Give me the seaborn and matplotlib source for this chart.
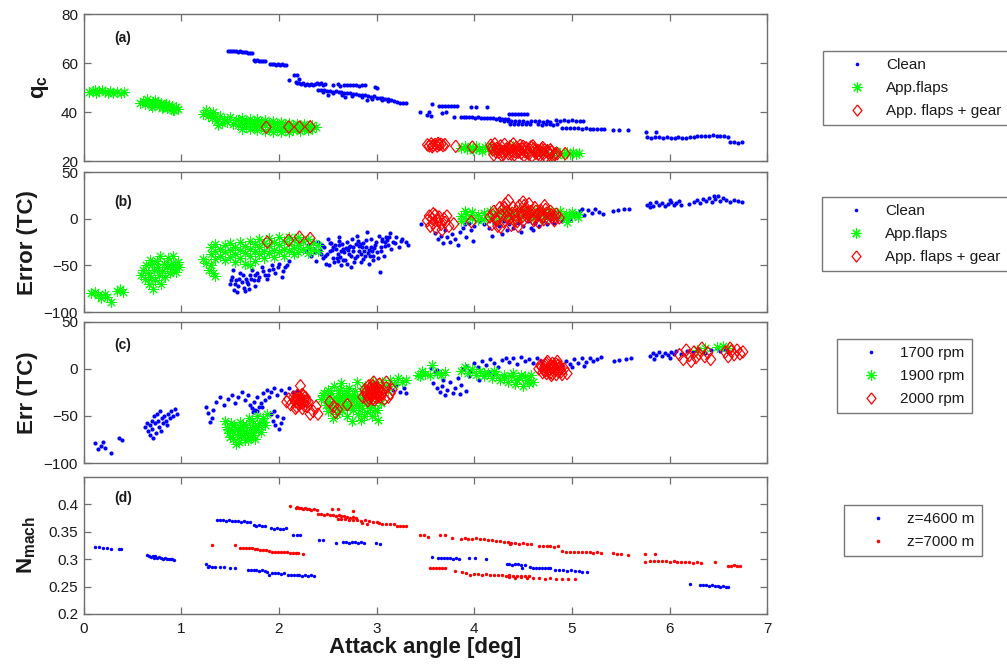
import matplotlib
matplotlib.use("Agg")
import matplotlib.pyplot as plt
from matplotlib.lines import Line2D
import seaborn as sns

# ---------------- (a) dynamic pressure q_c ----------------
A_CLEAN_X = [
    1.48, 1.50, 1.52, 1.54, 1.56, 1.58, 1.60, 1.62, 1.64, 1.66, 1.68, 1.70, 1.72,
    1.74, 1.76, 1.78, 1.80, 1.82, 1.84, 1.86,
    1.91, 1.93, 1.95, 1.97, 1.99, 2.01, 2.03, 2.05, 2.07,
    2.15, 2.19, 2.10, 2.21,
    2.17, 2.19, 2.21, 2.23, 2.25, 2.27, 2.29, 2.31, 2.33, 2.35, 2.37, 2.39, 2.41, 2.43, 2.45, 2.47,
    2.55, 2.60, 2.63, 2.67, 2.70, 2.73, 2.76, 2.79, 2.82, 2.85, 2.88, 3.00, 2.98,
    2.40, 2.43, 2.46, 2.49, 2.52, 2.55, 2.58, 2.61, 2.64, 2.67, 2.70, 2.73, 2.76, 2.79, 2.82, 2.85,
    2.88, 2.91, 2.94, 2.97, 3.00, 3.03, 3.06, 3.09, 3.12, 3.15, 3.18, 3.21, 3.24, 3.27, 3.30,
    2.45, 2.55, 2.65, 2.75, 2.85, 2.95, 3.05, 3.12, 2.50, 2.68, 2.90,
    3.44, 3.52, 3.57, 3.54, 3.67, 3.71, 3.79, 3.56,
    3.64, 3.67, 3.70, 3.73, 3.76, 3.79, 3.82, 3.97, 4.02, 4.13,
    3.86, 3.89, 3.92, 3.95, 3.98, 4.01, 4.04, 4.07, 4.10, 4.13, 4.16, 4.19, 4.22, 4.25, 4.28, 4.31, 4.34,
    4.36, 4.39, 4.42, 4.45, 4.48, 4.51, 4.54,
    4.26, 4.30, 4.34, 4.38, 4.42, 4.46, 4.50, 4.54, 4.58, 4.62, 4.66, 4.70, 4.74, 4.78,
    4.37, 4.41, 4.45, 4.49, 4.53, 4.57, 4.65, 4.69, 4.73, 4.77, 4.81, 4.85,
    4.84, 4.88, 4.92, 4.96, 5.00, 5.04, 5.08, 5.11,
    4.90, 4.94, 4.98, 5.02, 5.06, 5.10, 5.14, 5.18, 5.22, 5.26, 5.30, 5.33,
    5.42, 5.48, 5.57, 5.76, 5.86,
    5.77, 5.81, 5.85, 5.89, 5.93, 5.97, 6.01, 6.05, 6.09, 6.13, 6.17, 6.21, 6.25,
    6.28, 6.32, 6.36, 6.40, 6.44, 6.48, 6.52, 6.56, 6.60,
    6.62, 6.66, 6.70, 6.74,
]
A_CLEAN_Y = [
    64.9, 64.8, 64.9, 64.7, 64.8, 64.6, 64.7, 64.5, 64.4, 64.5, 64.2, 64.0, 63.9,
    61.2, 61.0, 61.1, 60.9, 61.0, 60.8, 60.9,
    59.6, 59.4, 59.5, 59.3, 59.4, 59.3, 59.5, 59.2, 59.3,
    55.3, 55.3, 53.2, 53.5,
    52.3, 51.8, 52.0, 51.4, 51.7, 51.2, 51.5, 51.0, 51.6, 51.2, 51.4, 52.0, 51.3, 51.8, 50.9, 51.6,
    50.9, 51.3, 50.8, 51.0, 51.2, 50.9, 51.1, 51.0, 50.8, 51.2, 50.9, 50.0, 50.4,
    49.0, 48.8, 48.9, 48.5, 48.7, 48.3, 48.4, 48.0, 48.2, 47.8, 47.6, 47.9, 47.3, 47.5, 47.0, 46.8,
    46.9, 46.5, 46.2, 46.4, 45.9, 45.6, 45.8, 45.2, 45.4, 44.8, 44.5, 43.9, 43.6, 43.7, 43.5,
    48.0, 47.6, 47.0, 46.5, 46.0, 45.3, 44.9, 44.6, 47.0, 46.2, 45.0,
    40.0, 38.9, 43.2, 40.2, 39.8, 40.0, 37.9, 38.3,
    42.4, 42.6, 42.5, 42.6, 42.4, 42.5, 42.3, 42.0, 42.1, 41.9,
    38.0, 37.8, 38.1, 37.9, 38.0, 37.7, 37.9, 37.6, 37.5, 37.7, 37.4, 37.5, 37.3, 37.4, 37.2, 37.3, 37.1,
    39.3, 39.1, 39.2, 39.3, 39.0, 39.2, 39.1,
    36.6, 36.4, 36.5, 36.2, 36.4, 36.3, 36.5, 36.1, 36.3, 36.2, 36.4, 36.0, 36.2, 36.1,
    35.3, 35.1, 35.2, 35.0, 35.3, 35.1, 35.1, 34.9, 35.0, 35.2, 34.9, 35.0,
    36.7, 36.5, 36.6, 36.4, 36.6, 36.5, 36.3, 36.5,
    33.6, 33.4, 33.5, 33.3, 33.4, 33.2, 33.3, 33.1, 33.2, 33.0, 33.1, 32.9,
    32.7, 32.5, 32.6, 31.8, 31.9,
    29.6, 29.5, 29.7, 29.6, 29.4, 29.6, 29.5, 29.4, 29.6, 29.3, 29.5, 29.7, 30.0,
    30.2, 30.4, 30.1, 30.3, 30.5, 30.2, 30.4, 30.1, 30.0,
    27.7, 27.6, 27.5, 27.6,
]
A_FLAPS_X = [
    0.06, 0.10, 0.13, 0.16, 0.19, 0.22, 0.25, 0.30, 0.34, 0.38, 0.41, 0.12, 0.27,
    0.58, 0.61, 0.63, 0.65, 0.67, 0.69, 0.71, 0.73, 0.75, 0.77, 0.79, 0.81, 0.83, 0.85, 0.87, 0.89,
    0.91, 0.93, 0.95, 0.97, 0.70, 0.76, 0.84, 0.92, 0.66, 0.80,
    1.22, 1.25, 1.27, 1.29, 1.31, 1.33, 1.35, 1.37, 1.40, 1.42, 1.44, 1.47, 1.50, 1.53, 1.56, 1.38,
    1.58, 1.58, 1.62, 1.62, 1.62, 1.66, 1.66, 1.70, 1.70, 1.70, 1.74, 1.74, 1.78, 1.78, 1.78, 1.82,
    1.82, 1.86, 1.86, 1.86, 1.90, 1.90, 1.94, 1.94, 1.94, 1.98, 1.98, 2.02, 2.02, 2.02, 2.06, 2.06,
    2.10, 2.10, 2.10, 2.14, 2.14, 2.18, 2.18, 2.22, 2.22, 2.26, 2.26, 2.30, 2.30, 2.34, 2.34, 2.38,
    3.86, 3.90, 3.93, 3.96, 3.99, 4.02, 4.05, 4.08, 4.11, 4.14, 4.17, 4.20, 4.25,
    4.88, 4.92, 4.95, 4.98, 5.01, 5.04, 5.07, 4.80, 4.84, 4.60, 4.70, 4.40,
]
A_FLAPS_Y = [
    48.2, 48.6, 47.9, 48.4, 48.8, 48.0, 47.7, 47.9, 48.3, 47.8, 48.1, 49.1, 48.4,
    43.8, 44.6, 43.2, 45.2, 44.0, 42.8, 43.9, 44.8, 43.1, 42.4, 43.6, 42.0, 42.9, 41.8, 43.0, 41.4,
    42.3, 41.0, 41.9, 41.3, 42.1, 44.2, 43.4, 40.7, 43.5, 41.5,
    39.0, 40.8, 38.3, 39.6, 37.5, 40.1, 38.5, 36.5, 38.2, 35.4, 37.3, 36.0, 37.8, 35.2, 36.6, 34.8,
    36.8, 34.5, 37.5, 35.0, 33.2, 36.2, 34.0, 37.3, 35.5, 33.0, 36.5, 34.2, 37.0, 35.2, 32.8, 36.0,
    33.8, 36.8, 34.8, 32.4, 35.5, 33.2, 36.4, 34.0, 32.0, 35.2, 33.0, 36.0, 34.0, 31.9, 35.0, 32.8,
    35.7, 33.6, 31.8, 34.8, 32.6, 35.2, 33.4, 34.5, 32.2, 35.0, 33.0, 34.2, 32.5, 34.6, 33.2, 33.8,
    25.5, 26.3, 24.8, 25.8, 24.5, 26.0, 25.0, 24.2, 25.6, 24.8, 26.3, 23.9, 25.0,
    23.2, 22.6, 23.8, 22.9, 23.5, 22.8, 23.2, 22.4, 24.0, 23.5, 24.0, 26.0,
]
A_GEAR_X = [
    1.87, 2.10, 2.21, 2.32,
    3.52, 3.54, 3.56, 3.58, 3.60, 3.62, 3.64, 3.66, 3.68, 3.70, 3.57, 3.63,
    3.81, 3.98,
    4.17, 4.19, 4.21, 4.23, 4.25, 4.27, 4.29, 4.31, 4.33, 4.35, 4.37, 4.39, 4.41, 4.43, 4.45, 4.47,
    4.49, 4.51, 4.53, 4.55, 4.57, 4.59, 4.61, 4.63, 4.65, 4.67, 4.69, 4.71, 4.73, 4.75, 4.77, 4.79,
    4.81, 4.83, 4.85, 4.93, 4.30, 4.40, 4.50, 4.60, 4.70, 4.20,
    4.18, 4.22, 4.26, 4.32, 4.36, 4.42, 4.46, 4.52, 4.56, 4.62, 4.66, 4.72, 4.76, 4.82,
    4.28, 4.38, 4.48, 4.58, 4.68, 4.78,
]
A_GEAR_Y = [
    33.8, 33.9, 33.9, 34.0,
    26.6, 26.2, 27.0, 26.4, 26.8, 26.1, 26.6, 26.9, 26.3, 26.7, 25.8, 27.2,
    26.0, 25.7,
    26.5, 24.5, 27.0, 25.2, 23.5, 26.2, 24.0, 26.8, 25.0, 23.0, 26.0, 24.2, 22.5, 25.6, 23.6, 26.4,
    24.8, 22.2, 25.4, 23.4, 24.6, 22.0, 25.0, 23.2, 24.4, 22.1, 24.8, 23.0, 21.8, 24.2, 22.6, 23.8,
    21.9, 23.0, 23.0, 23.0, 22.8, 27.0, 26.0, 26.2, 25.5, 22.5,
    25.5, 23.8, 24.8, 24.0, 24.8, 23.8, 24.8, 23.8, 22.8, 24.2, 23.0, 24.6, 23.4, 22.6,
    22.4, 22.8, 23.2, 25.8, 23.8, 24.6,
]

# ---------------- (b) error vs aircraft configuration ----------------
B_CLEAN_X = [
    1.50, 1.52, 1.54, 1.56, 1.58, 1.60, 1.62, 1.64, 1.66, 1.68, 1.70, 1.72, 1.74, 1.76, 1.78, 1.80,
    1.83, 1.86, 1.88, 1.90, 1.93, 1.96, 2.00, 2.03, 2.06, 2.10, 1.57, 1.65, 1.53, 1.69,
    2.28, 2.30, 2.33, 2.36, 2.38, 2.40, 2.43, 2.46, 2.48, 2.50, 2.52, 2.55, 2.57, 2.60, 2.62, 2.64,
    2.66, 2.68, 2.70, 2.72, 2.74, 2.76, 2.78, 2.80, 2.82, 2.84, 2.86, 2.88, 2.90, 2.92, 2.94, 2.96,
    2.98, 3.00, 3.02, 3.04, 3.06, 3.08, 3.10, 3.12, 3.14, 3.17, 3.20, 3.23, 3.26, 3.30, 3.32,
    3.03, 2.70, 2.55, 2.65, 2.75, 2.85, 2.95, 2.45, 2.35, 3.15, 2.60, 2.92, 2.80,
    2.42, 2.47, 2.53, 2.58, 2.63, 2.67, 2.73, 2.77, 2.83, 2.87, 2.93, 2.97, 3.05, 3.09, 3.13,
    2.51, 2.61, 2.71, 2.81, 2.89,
    3.45, 3.60, 3.63, 3.66, 3.68, 3.70, 3.72, 3.75, 3.77, 3.80, 3.83, 3.85, 3.88, 3.92, 3.97, 3.99,
    3.90, 3.95, 4.00, 4.05, 4.10, 4.15, 4.18, 4.20, 4.25, 4.30, 4.33, 4.36, 4.40, 4.45, 4.48, 4.50,
    4.55, 4.58, 4.62, 4.66, 4.70, 4.74, 4.78, 4.82, 4.86, 4.90, 4.94, 4.98, 5.02, 4.28, 4.60,
    5.04, 5.08, 5.12, 5.16, 5.20, 5.24, 5.28, 5.32, 5.42, 5.47, 5.53, 5.58, 5.10,
    5.77, 5.80, 5.83, 5.86, 5.89, 5.92, 5.95, 5.98, 6.01, 6.04, 6.07, 6.10, 6.12,
    6.20, 6.25, 6.28, 6.31, 6.34, 6.37, 6.40, 6.43, 6.46, 6.49, 6.52, 6.55, 6.58, 6.62, 6.66, 6.70,
    6.74, 5.80, 6.45, 6.00,
    2.31, 2.37, 2.44, 2.49, 2.54, 2.59, 2.64, 2.69, 2.74, 2.79, 2.84, 2.89, 2.94, 2.99, 3.04,
    3.09, 3.19, 3.25, 2.56, 2.66, 2.76, 2.86, 2.96, 2.52, 2.62, 2.72, 2.82, 2.91, 3.01, 3.11,
    1.51, 1.55, 1.59, 1.63, 1.67, 1.71, 1.75, 1.79, 1.84, 1.89, 1.94, 1.99, 2.04, 2.08,
]
B_CLEAN_Y = [
    -70, -62, -76, -66, -72, -58, -68, -74, -64, -70, -60, -55, -66, -72, -58, -62,
    -52, -60, -65, -55, -50, -58, -48, -62, -52, -45, -78, -77, -55, -75,
    -35, -28, -40, -32, -45, -25, -38, -30, -48, -22, -35, -42, -28, -38, -20, -50,
    -32, -44, -25, -38, -52, -30, -42, -18, -35, -46, -26, -40, -14, -33, -22, -44,
    -28, -36, -18, -30, -24, -40, -20, -28, -15, -25, -20, -30, -22, -25, -28,
    -57, -48, -30, -27, -22, -30, -35, -42, -25, -32, -45, -48, -40,
    -33, -40, -26, -32, -41, -36, -29, -46, -27, -35, -40, -31, -22, -25, -19,
    -50, -28, -33, -24, -30,
    -6, -15, -22, -18, -26, -12, -20, -25, -16, -22, -28, -14, -10, -20, -12, -24,
    -6, -4, -8, -2, -6, -10, -18, -4, -8, -2, -12, -6, -10, -4, -14, -8,
    -2, -10, -5, -8, -2, -6, 0, -4, 2, -2, 3, 0, 4, -16, -12,
    6, 8, 4, 9, 6, 10, 7, 5, 8, 9, 10, 11, 10,
    15, 17, 14, 18, 15, 17, 14, 16, 18, 15, 17, 19, 15,
    16, 18, 20, 17, 21, 19, 22, 18, 21, 24, 19, 22, 20, 18, 20, 19,
    18, 12.5, 24.5, 20,
    -30, -36, -28, -38, -33, -42, -35, -31, -40, -27, -38, -23, -30, -25, -34,
    -29, -26, -24, -46, -44, -35, -43, -40, -26, -24, -30, -29, -37, -42, -23,
    -66, -70, -64, -60, -68, -64, -60, -66, -56, -60, -54, -52, -56, -50,
]
B_FLAPS_X = [
    0.08, 0.12, 0.15, 0.18, 0.22, 0.24, 0.28, 0.34, 0.37, 0.40,
    0.59, 0.61, 0.63, 0.64, 0.66, 0.67, 0.69, 0.70, 0.72, 0.73, 0.75, 0.76, 0.77, 0.79, 0.80, 0.82,
    0.83, 0.85, 0.86, 0.88, 0.89, 0.91, 0.92, 0.94, 0.95, 0.97, 0.98, 0.71, 0.68, 0.78,
    1.22, 1.25, 1.28, 1.32, 1.35, 1.30,
    1.30, 1.30, 1.35, 1.35, 1.35, 1.40, 1.40, 1.45, 1.45, 1.45, 1.50, 1.50, 1.50, 1.55, 1.55, 1.55,
    1.60, 1.60, 1.60, 1.65, 1.65, 1.65, 1.70, 1.70, 1.70, 1.70, 1.75, 1.75, 1.75, 1.80, 1.80, 1.80,
    1.85, 1.85, 1.85, 1.90, 1.90, 1.90, 1.95, 1.95, 1.95, 2.00, 2.00, 2.00, 2.05, 2.05, 2.05, 2.10,
    2.10, 2.10, 2.15, 2.15, 2.15, 2.20, 2.20, 2.20, 2.25, 2.25, 2.30, 2.30, 2.30, 2.35, 2.35, 2.40,
    2.40,
    3.86, 3.86, 3.92, 3.92, 3.98, 3.98, 4.04, 4.04, 4.10, 4.10, 4.16, 4.16, 4.22, 4.22, 4.28, 4.28,
    4.34, 4.34, 4.40, 4.40, 4.46, 4.46, 4.52, 4.52, 4.58, 4.58, 4.64, 4.64, 4.70, 4.70, 4.76, 4.76,
    4.82, 4.82, 4.88, 4.88, 4.94, 4.94, 5.00, 5.00, 5.06, 5.06, 3.90, 4.95,
]
B_FLAPS_Y = [
    -80, -78.6, -82, -85, -80.5, -84, -89, -77, -75.7, -78,
    -60, -55, -65, -50, -58, -70, -62, -48, -55, -66, -45, -52, -60, -70, -56, -48,
    -62, -52, -42, -58, -48, -54, -40, -50, -57, -46, -52, -75, -44, -40,
    -43, -47, -55, -58, -61, -50,
    -30, -38, -27, -35, -43, -32, -40, -28, -36, -44, -26, -33, -41, -30, -38, -46,
    -25, -33, -42, -29, -37, -48, -24, -32, -40, -50, -27, -35, -45, -22, -30, -38,
    -26, -34, -42, -21, -29, -37, -25, -33, -41, -20, -28, -36, -24, -32, -40, -19,
    -27, -35, -23, -31, -38, -20, -28, -36, -24, -32, -22, -30, -37, -26, -33, -28,
    -35,
    3, -2, 5, 0, 7, 1, 4, -1, 6, 0, 8, 2, 5, -2, 7, 1,
    9, 3, 6, 0, 8, 2, 10, 4, 6, 1, 9, 3, 7, 0, 9, 4,
    6, 2, 8, 3, 5, 1, 7, 3, 5, 2, 8, -3,
]
B_GEAR_X = [
    1.88, 2.10, 2.21, 2.32,
    3.52, 3.54, 3.55, 3.57, 3.58, 3.60, 3.61, 3.63, 3.64, 3.66, 3.67, 3.69, 3.70, 3.72, 3.74, 3.58,
    3.79, 3.97,
    4.16, 4.18, 4.20, 4.22, 4.24, 4.26, 4.28, 4.30, 4.32, 4.34, 4.36, 4.38, 4.40, 4.42, 4.44, 4.46,
    4.48, 4.50, 4.52, 4.54, 4.56, 4.58, 4.60, 4.62, 4.64, 4.66, 4.68, 4.70, 4.72, 4.74, 4.76, 4.78,
    4.80, 4.82, 4.84, 4.87, 4.35, 4.50, 4.27, 4.45,
    4.19, 4.23, 4.29, 4.33, 4.39, 4.43, 4.49, 4.53, 4.59, 4.63, 4.69, 4.73, 4.79, 4.83,
    4.31, 4.41, 4.51, 4.61, 4.71,
]
B_GEAR_Y = [
    -25, -23, -19.6, -21,
    -2, 3, -8, 0, -5, 4, -10, -2, 2, -6, -12, 0, -4, 3, -8, 5.4,
    -5.4, -3,
    2, -6, 8, 0, -8, 12, 4, -3, 16, 8, 0, -7, 12, 4, -3, 14,
    6, -2, 10, 2, 16, 8, 0, 12, 4, -4, 9, 2, 14, 6, 0, 8,
    2, -2, 5, 1, 19.6, 18, -9, -8,
    4, -2, 10, 2, 6, 8, 2, 6, 4, 8, 5, 10, 4, 2,
    12, -2, 14, -2, -1,
]

# ---------------- (c) error vs engine speed ----------------
C_1700_X = [
    0.12, 0.18, 0.20, 0.22, 0.28, 0.36, 0.39, 0.15,
    0.63, 0.65, 0.66, 0.68, 0.70, 0.70, 0.72, 0.73, 0.74, 0.75, 0.76, 0.77, 0.78, 0.80, 0.81, 0.82,
    0.84, 0.86, 0.88, 0.90, 0.92, 0.94, 0.96, 0.71, 0.68, 0.85, 0.79,
    1.25, 1.27, 1.29, 1.31, 1.33,
    1.36, 1.40, 1.44, 1.48, 1.52, 1.55, 1.58, 1.62, 1.65, 1.68, 1.70, 1.72, 1.74, 1.76, 1.78, 1.80,
    1.82, 1.84, 1.86, 1.88, 1.90, 1.92, 1.95, 1.98, 2.02, 2.06, 2.10, 2.14, 2.18, 1.73, 1.78, 1.83,
    1.92, 1.94, 1.96, 1.98, 2.00, 2.02, 2.04, 1.95,
    3.13, 3.17, 3.20, 3.24, 3.28, 3.30, 3.56, 3.60, 3.62,
    3.58, 3.62, 3.65, 3.67, 3.70, 3.72, 3.75, 3.78, 3.80, 3.83, 3.86, 3.68, 3.92, 3.85,
    3.88, 3.92, 3.96, 4.00, 4.04, 4.08, 4.12, 4.16, 4.20, 4.24, 4.28, 4.32, 4.36, 4.40, 4.44, 4.48,
    4.52, 4.56, 4.60, 4.64, 4.68, 4.10, 4.20, 3.95, 4.05, 4.15,
    4.90, 4.94, 4.98, 5.02, 5.06, 5.10, 5.14, 5.18, 5.22, 5.26, 5.30, 5.00, 5.12, 5.43, 5.48, 5.55,
    5.60,
    5.80, 5.83, 5.86, 5.89, 5.92, 5.95, 5.98, 6.01, 6.04, 6.07, 5.84, 6.00, 6.12, 6.18, 6.24, 6.30,
    6.36, 6.42, 6.48, 6.52, 6.56, 6.60,
]
C_1700_Y = [
    -79, -82, -78, -84, -89, -73.5, -76, -85,
    -62, -58, -66, -60, -55, -64, -50, -58, -68, -48, -55, -62, -45, -52, -58, -50,
    -55, -48, -52, -45, -50, -43, -48, -73, -70, -60, -66,
    -41, -47, -56, -52, -44,
    -35, -30, -38, -32, -28, -36, -30, -25, -33, -28, -38, -42, -35, -44, -30, -40,
    -36, -26, -33, -22, -30, -25, -20, -28, -22, -26, -20, -25, -23, -46, -45, -40,
    -48, -55, -60, -50, -64, -58, -52, -45,
    -18, -22, -17, -25, -20, -26, 0.6, -3, -1,
    -15, -20, -25, -18, -28, -22, -14, -26, -20, -10, -17, -12, -24, -27,
    0, 3, -2, 6, 2, 8, 4, 10, 6, 2, 9, 12, 7, 11, 5, 13,
    8, 10, 6, 12, 8, -8, -5, -8, -12, -3,
    4, 8, 5, 10, 6, 11, 7, 12, 8, 10, 13, 2, 3, 8, 9, 10,
    12,
    14, 17, 15, 18, 14, 17, 15, 18, 16, 19, 10, 12, 16, 19, 18, 21,
    17, 20, 22, 19, 21, 18,
]
C_1900_X = [
    1.45, 1.47, 1.49, 1.51, 1.53, 1.55, 1.57, 1.59, 1.60, 1.62, 1.64, 1.66, 1.68, 1.70, 1.72, 1.74,
    1.76, 1.78, 1.80, 1.82, 1.84, 1.86, 1.88, 1.50, 1.56, 1.63, 1.69, 1.75, 1.58, 1.52,
    2.43, 2.46, 2.48, 2.50, 2.52, 2.54, 2.56, 2.58, 2.60, 2.62, 2.64, 2.66, 2.68, 2.70, 2.72, 2.74,
    2.76, 2.78, 2.80, 2.82, 2.84, 2.86, 2.88, 2.90, 2.92, 2.94, 2.96, 2.98, 3.00, 3.02, 3.04,
    2.55, 2.65, 2.75, 2.85, 2.95, 2.60, 2.70, 2.80, 2.90, 2.50, 3.01, 2.98,
    3.06, 3.10, 3.14, 3.18, 3.22, 3.26, 3.30, 3.12,
    3.42, 3.46, 3.44, 3.57, 3.50, 3.55, 3.62, 3.66, 3.70,
    3.86, 3.90, 3.94, 3.98, 4.02, 4.06, 4.10, 4.14, 4.18, 4.22, 4.26, 4.30, 4.34, 4.38, 4.42, 4.46,
    4.50, 4.54, 4.58, 4.60, 4.40, 4.48, 4.30, 4.44, 4.52, 4.56, 4.20, 4.10,
    6.28, 6.36, 6.48, 6.55, 6.60,
    2.45, 2.49, 2.53, 2.57, 2.61, 2.65, 2.69, 2.73, 2.77, 2.81, 2.85, 2.89, 2.93, 2.97,
    2.51, 2.59, 2.67, 2.75, 2.83, 2.91, 2.63, 2.71, 2.79, 2.87,
    1.48, 1.54, 1.61, 1.67, 1.73, 1.79, 1.85, 1.65, 1.71, 1.60,
]
C_1900_Y = [
    -55, -62, -68, -58, -74, -64, -70, -78, -56, -66, -72, -60, -76, -65, -55, -70,
    -62, -50, -58, -67, -52, -60, -48, -72, -80, -60, -52, -75, -64, -66,
    -32, -26, -38, -22, -30, -42, -18, -34, -26, -46, -15, -38, -28, -50, -20, -34,
    -44, -24, -14, -38, -54, -30, -18, -46, -26, -38, -14, -30, -44, -20, -36,
    -52, -30, -55, -42, -50, -36, -40, -30, -34, -45, -54, -44,
    -14, -18, -12, -16, -10, -14, -12, -22,
    -6, -2, -8, 4, -5, -7, -4, -6, -3,
    -2, 2, -4, 0, -6, -2, -8, -4, -10, -5, -12, -6, -14, -8, -16, -10,
    -18, -12, -6, -14, -4, -6, -10, -12, -8, -15, -2, -4,
    20, 22, 23, 24, 22,
    -28, -35, -26, -40, -31, -44, -24, -42, -30, -48, -24, -36, -42, -22,
    -38, -48, -34, -28, -32, -28, -22, -30, -38, -50,
    -64, -60, -70, -68, -62, -64, -56, -76, -72, -62,
]
C_2000_X = [
    2.15, 2.17, 2.19, 2.21, 2.23, 2.25, 2.27, 2.29, 2.18, 2.24, 2.20, 2.26, 2.22, 2.10, 2.08, 2.17,
    2.24, 2.32, 2.40, 2.35, 2.38, 2.30, 2.12,
    2.52, 2.56, 2.58, 2.70, 2.60,
    2.88, 2.90, 2.92, 2.94, 2.96, 2.98, 3.00, 3.02, 3.04, 2.91, 2.97, 3.03, 2.95, 2.99, 3.06, 3.10,
    3.12, 3.14, 3.16, 2.86, 3.08, 3.10,
    4.66, 4.68, 4.70, 4.72, 4.74, 4.76, 4.78, 4.80, 4.82, 4.84, 4.86, 4.88, 4.90, 4.92, 4.75, 4.85,
    4.79, 4.73, 4.95,
    6.10, 6.14, 6.17, 6.20, 6.22, 6.25, 6.27, 6.30, 6.33, 6.36, 6.39, 6.42, 6.57, 6.60, 6.63, 6.66,
    6.69, 6.72, 6.75, 6.62,
    2.89, 2.93, 2.95, 2.97, 3.01, 3.05, 2.92, 2.96, 3.00, 3.04, 2.94, 2.98, 3.02,
    4.69, 4.71, 4.73, 4.77, 4.81, 4.83, 4.87, 4.89, 4.74, 4.80, 4.86, 4.78, 4.84,
    2.16, 2.19, 2.22, 2.25, 2.28, 2.20, 2.26,
]
C_2000_Y = [
    -30, -35, -28, -38, -32, -36, -30, -40, -40, -27, -33, -34, -18, -32, -35, -42,
    -42, -48, -48, -45, -40, -35, -38,
    -35, -40, -46, -38, -43,
    -22, -28, -18, -25, -32, -20, -27, -22, -30, -34, -14, -16, -22, -30, -25, -20,
    -30, -26, -22, -30, -32, -14,
    0, 4, -4, 2, 6, -2, 3, -5, 1, 5, -3, 2, -6, 0, 8, 8,
    -7, -2, -5,
    15, 10, 20, 14, 8, 18, 12, 16, 22, 13, 17, 10, 18, 13, 19, 15,
    20, 16, 18, 22,
    -25, -21, -29, -24, -25, -27, -31, -18, -20, -23, -27, -33, -29,
    2, -1, 4, 0, 3, -1, 0, -3, -5, 6, 4, -4, -6,
    -33, -31, -36, -29, -34, -37, -39,
]

# ---------------- (d) Mach number vs altitude ----------------
D_4600_X = [
    0.12, 0.16, 0.20, 0.24, 0.28, 0.36, 0.38,
    0.65, 0.67, 0.69, 0.71, 0.73, 0.75, 0.77, 0.79, 0.81, 0.83, 0.85, 0.87, 0.89, 0.91, 0.93, 0.72,
    1.25, 1.28, 1.31, 1.27, 1.35, 1.40, 1.44, 1.50, 1.55,
    1.37, 1.40, 1.43, 1.46, 1.49, 1.52, 1.55, 1.58, 1.61, 1.64, 1.67, 1.70,
    1.74, 1.77, 1.80, 1.83, 1.86,
    1.92, 1.95, 1.98, 2.01, 2.04, 2.07,
    2.14, 2.18, 2.22,
    1.68, 1.71, 1.74, 1.77, 1.80, 1.83, 1.86,
    1.88, 1.90, 1.93, 1.96, 1.99, 2.02, 2.05,
    2.09, 2.12, 2.15, 2.18, 2.21, 2.24, 2.27, 2.30, 2.33, 2.36,
    2.41, 2.45, 2.58, 2.66, 2.69, 2.72, 2.75, 2.78, 2.81, 2.84, 2.87, 2.99, 3.03,
    3.57, 3.63, 3.66, 3.69, 3.72, 3.75, 3.78, 3.81, 3.84, 3.95, 4.01, 4.12,
    4.33, 4.36, 4.39, 4.42, 4.45, 4.48, 4.52, 4.49,
    4.57, 4.60, 4.63, 4.66, 4.69, 4.72, 4.75, 4.78,
    4.83, 4.87, 4.91, 4.95, 4.99, 5.03, 5.07, 5.10, 5.15,
    6.21, 6.31, 6.34, 6.37, 6.40, 6.43, 6.46, 6.49, 6.52, 6.55, 6.58, 6.60,
]
D_4600_Y = [
    0.322, 0.322, 0.321, 0.320, 0.319, 0.319, 0.319,
    0.307, 0.306, 0.304, 0.306, 0.305, 0.303, 0.304, 0.302, 0.301, 0.302, 0.300, 0.301, 0.300,
    0.300, 0.299, 0.302,
    0.292, 0.288, 0.286, 0.285, 0.286, 0.285, 0.286, 0.284, 0.284,
    0.371, 0.371, 0.371, 0.370, 0.371, 0.370, 0.370, 0.369, 0.368, 0.369, 0.368, 0.367,
    0.362, 0.361, 0.362, 0.361, 0.360,
    0.356, 0.355, 0.356, 0.355, 0.355, 0.356,
    0.344, 0.344, 0.344,
    0.281, 0.280, 0.281, 0.280, 0.279, 0.280, 0.278,
    0.276, 0.272, 0.275, 0.274, 0.274, 0.273, 0.274,
    0.272, 0.271, 0.272, 0.271, 0.271, 0.270, 0.271, 0.270, 0.271, 0.270,
    0.335, 0.335, 0.330, 0.331, 0.331, 0.330, 0.331, 0.331, 0.330, 0.331, 0.330, 0.330, 0.327,
    0.304, 0.302, 0.303, 0.302, 0.302, 0.302, 0.301, 0.302, 0.301, 0.302, 0.302, 0.301,
    0.291, 0.291, 0.290, 0.291, 0.291, 0.290, 0.290, 0.283,
    0.285, 0.284, 0.284, 0.284, 0.283, 0.284, 0.283, 0.284,
    0.280, 0.280, 0.280, 0.279, 0.280, 0.279, 0.278, 0.277, 0.276,
    0.255, 0.252, 0.252, 0.252, 0.251, 0.252, 0.251, 0.251, 0.250, 0.251, 0.250, 0.249,
]
D_7000_X = [
    1.31, 1.55,
    1.60, 1.63, 1.66, 1.69, 1.72, 1.75, 1.78, 1.81, 1.84, 1.87,
    1.90, 1.93, 1.96, 1.99, 2.02, 2.05, 2.08, 2.11, 2.14, 2.17, 2.20, 2.25,
    2.11, 2.17, 2.19, 2.21, 2.23, 2.25, 2.27, 2.29, 2.31, 2.33, 2.36, 2.39,
    2.54, 2.60, 2.76,
    2.40, 2.43, 2.46, 2.49, 2.52, 2.55, 2.58, 2.61, 2.64, 2.67, 2.70, 2.73, 2.76, 2.79,
    2.60, 2.64, 2.68, 2.72, 2.76, 2.80, 2.84, 2.88, 2.92, 2.96, 3.00, 2.85, 2.90,
    3.02, 3.06, 3.10, 3.14, 3.18, 3.21, 3.24, 3.27, 3.30,
    3.44, 3.49, 3.53, 3.65, 3.70, 3.77,
    3.86, 3.90, 3.94, 3.98, 4.02, 4.06, 4.10, 4.14, 4.18, 4.22,
    4.26, 4.30, 4.34, 4.38, 4.42, 4.46, 4.50, 4.54, 4.58, 4.37,
    4.66, 4.70, 4.74, 4.78, 4.82, 4.86,
    4.90, 4.94, 4.98, 5.02, 5.06, 5.10, 5.14, 5.18, 5.22, 5.26, 5.30,
    5.42, 5.46, 5.50, 5.57, 5.75, 5.85, 5.75,
    5.80, 5.84, 5.88, 5.92, 5.96, 6.00, 6.04, 6.08, 6.12, 6.16, 6.20, 6.24, 6.28, 6.32, 6.46,
    6.60, 6.63, 6.66, 6.69, 6.72,
    3.55, 3.58, 3.61, 3.64, 3.67, 3.70, 3.80, 3.87, 3.92, 3.96,
    4.00, 4.04, 4.08, 4.12, 4.16, 4.20, 4.24, 4.28, 4.32, 4.36, 4.40, 4.44, 4.48, 4.52, 4.56,
    4.36, 4.42, 4.48, 4.54, 4.60, 4.66, 4.72, 4.78, 4.84, 4.90, 4.96, 5.03,
]
D_7000_Y = [
    0.325, 0.325,
    0.321, 0.320, 0.321, 0.320, 0.320, 0.319, 0.318, 0.317, 0.316, 0.316,
    0.315, 0.314, 0.314, 0.313, 0.314, 0.313, 0.313, 0.312, 0.312, 0.312, 0.312, 0.309,
    0.397, 0.394, 0.396, 0.393, 0.394, 0.392, 0.393, 0.391, 0.392, 0.390, 0.391, 0.389,
    0.391, 0.391, 0.388,
    0.383, 0.382, 0.381, 0.382, 0.380, 0.381, 0.379, 0.380, 0.378, 0.379, 0.377, 0.376, 0.377, 0.375,
    0.374, 0.373, 0.373, 0.372, 0.371, 0.372, 0.370, 0.371, 0.369, 0.368, 0.368, 0.366, 0.365,
    0.366, 0.365, 0.365, 0.364, 0.364, 0.361, 0.360, 0.360, 0.360,
    0.345, 0.344, 0.341, 0.344, 0.344, 0.338,
    0.337, 0.338, 0.337, 0.337, 0.338, 0.336, 0.336, 0.335, 0.335, 0.334,
    0.333, 0.332, 0.331, 0.330, 0.330, 0.328, 0.329, 0.327, 0.328, 0.327,
    0.324, 0.324, 0.324, 0.324, 0.323, 0.324,
    0.315, 0.314, 0.314, 0.314, 0.313, 0.314, 0.313, 0.313, 0.312, 0.313, 0.311,
    0.311, 0.310, 0.309, 0.308, 0.309, 0.309, 0.294,
    0.297, 0.297, 0.296, 0.297, 0.296, 0.295, 0.296, 0.295, 0.294, 0.295, 0.294, 0.293, 0.294, 0.293, 0.294,
    0.288, 0.288, 0.289, 0.288, 0.288,
    0.283, 0.283, 0.283, 0.283, 0.283, 0.283, 0.279, 0.276, 0.274, 0.271,
    0.273, 0.273, 0.272, 0.273, 0.272, 0.271, 0.272, 0.271, 0.270, 0.271, 0.270, 0.270, 0.269, 0.270, 0.269,
    0.267, 0.266, 0.267, 0.266, 0.265, 0.265, 0.264, 0.265, 0.264, 0.264, 0.264, 0.263,
]

CONFIG_LABELS = ["Clean", "App.flaps", "App. flaps + gear"]
RPM_LABELS = ["1700 rpm", "1900 rpm", "2000 rpm"]
ALT_LABELS = ["z=4600 m", "z=7000 m"]
X_TICKS = [0, 1, 2, 3, 4, 5, 6, 7]
D_TICKS = [0.2, 0.25, 0.3, 0.35, 0.4]
D_TICK_LABELS = ["0.2", "0.25", "0.3", "0.35", "0.4"]

# ---------------- styling ----------------
sns.set_style("ticks")
plt.rcParams["font.family"] = ["Liberation Sans", "DejaVu Sans"]
plt.rcParams["mathtext.fontset"] = "custom"
plt.rcParams["mathtext.rm"] = "Liberation Sans"
plt.rcParams["mathtext.it"] = "Liberation Sans:italic"
plt.rcParams["mathtext.bf"] = "Liberation Sans:bold"

BLUE, GREEN, RED = "#0000ff", "#00ff00", "#ff0000"
FRAME = "#6e6e6e"
TXT = "#1a1a1a"
STAR = (8, 2, 0)
# diamond a little taller than wide
DIAMOND = [(0.0, 1.0), (0.8, 0.0), (0.0, -1.0), (-0.8, 0.0), (0.0, 1.0)]

fig = plt.figure(figsize=(10.07, 6.67), dpi=100)
LEFT, WIDTH = 0.083, 0.679
rows = [(0.7586, 0.2204), (0.532, 0.210), (0.3058, 0.2118), (0.0795, 0.2054)]
axes = [fig.add_axes([LEFT, b, WIDTH, h]) for b, h in rows]


def dots(ax, x, y, color, s=9):
    sns.scatterplot(x=x, y=y, ax=ax, marker="o", s=s, color=color,
                    edgecolor=color, linewidth=0, legend=False, zorder=2)


def stars(ax, x, y):
    sns.scatterplot(x=x, y=y, ax=ax, marker=STAR, s=48, color=GREEN,
                    linewidth=0.7, legend=False, zorder=3)


def diamonds(ax, x, y):
    sns.scatterplot(x=x, y=y, ax=ax, marker=DIAMOND, s=80, color=RED,
                    facecolor="none", edgecolor=RED, linewidth=0.85,
                    legend=False, zorder=4)


ax_a, ax_b, ax_c, ax_d = axes
dots(ax_a, A_CLEAN_X, A_CLEAN_Y, BLUE)
stars(ax_a, A_FLAPS_X, A_FLAPS_Y)
diamonds(ax_a, A_GEAR_X, A_GEAR_Y)

dots(ax_b, B_CLEAN_X, B_CLEAN_Y, BLUE)
stars(ax_b, B_FLAPS_X, B_FLAPS_Y)
diamonds(ax_b, B_GEAR_X, B_GEAR_Y)

dots(ax_c, C_1700_X, C_1700_Y, BLUE)
stars(ax_c, C_1900_X, C_1900_Y)
diamonds(ax_c, C_2000_X, C_2000_Y)

dots(ax_d, D_4600_X, D_4600_Y, BLUE, s=6)
dots(ax_d, D_7000_X, D_7000_Y, RED, s=6)

specs = [
    (ax_a, (20, 80), [20, 40, 60, 80], None, r"$\mathbf{q_c}$", -0.047, "(a)", 0.835),
    (ax_b, (-100, 50), [-100, -50, 0, 50], None, "Error (TC)", -0.066, "(b)", 0.79),
    (ax_c, (-100, 50), [-100, -50, 0, 50], None, "Err (TC)", -0.066, "(c)", 0.835),
    (ax_d, (0.2, 0.45), D_TICKS, D_TICK_LABELS, r"$\mathbf{N_{mach}}$", -0.066, "(d)", 0.845),
]
for ax, ylim, yt, ytl, ylab, lx, tag, ty in specs:
    ax.set_xlim(0, 7)
    ax.set_xticks(X_TICKS)
    ax.set_ylim(*ylim)
    ax.set_yticks(yt)
    if ytl is not None:
        ax.set_yticklabels(ytl)
    ax.tick_params(direction="in", top=True, right=True, length=5, width=0.9,
                   color=FRAME, labelcolor=TXT, labelsize=11)
    ax.tick_params(axis="y", pad=4)
    ax.tick_params(axis="x", pad=6)
    for sp in ax.spines.values():
        sp.set_visible(True)
        sp.set_color(FRAME)
        sp.set_linewidth(1.0)
    ax.set_ylabel(ylab, fontsize=16, fontweight="bold", color=TXT)
    ax.yaxis.set_label_coords(lx, 0.5)
    ax.text(0.045, ty, tag, transform=ax.transAxes, fontsize=10,
            fontweight="bold", color=TXT, ha="left", va="center")
    if ax is not ax_d:
        ax.tick_params(axis="x", labelbottom=False)
    ax.set_xlabel("")

ax_d.set_xlabel("Attack angle [deg]", fontsize=16, fontweight="bold", color=TXT)
ax_d.xaxis.set_label_coords(0.5, -0.165)


def legend_handles(kinds):
    out = []
    for kind, color in kinds:
        if kind == "dot":
            out.append(Line2D([], [], ls="none", marker="o", ms=2.6, color=color, mew=0))
        elif kind == "star":
            out.append(Line2D([], [], ls="none", marker=STAR, ms=7.5, color=color, mew=0.8))
        else:
            out.append(Line2D([], [], ls="none", marker=DIAMOND, ms=8.0, mfc="none",
                              mec=color, mew=0.9))
    return out


cfg_kinds = [("dot", BLUE), ("star", GREEN), ("dia", RED)]
alt_kinds = [("dot", BLUE), ("dot", RED)]
legend_specs = [
    (cfg_kinds, CONFIG_LABELS, 823, 51),
    (cfg_kinds, CONFIG_LABELS, 822, 197),
    (cfg_kinds, RPM_LABELS, 837, 339),
    (alt_kinds, ALT_LABELS, 844, 505),
]
W_PX, H_PX = 1007.0, 667.0
for kinds, labels, px, py in legend_specs:
    leg = fig.legend(legend_handles(kinds), labels, loc="upper left",
                     bbox_to_anchor=(px / W_PX, 1 - py / H_PX),
                     bbox_transform=fig.transFigure, borderaxespad=0,
                     fontsize=11, frameon=True, fancybox=False, framealpha=1,
                     edgecolor="#777777", borderpad=0.45, handlelength=3.6,
                     handletextpad=0.1, labelspacing=0.6)
    leg.get_frame().set_linewidth(1.0)
    for t in leg.get_texts():
        t.set_color(TXT)

fig.savefig("out.png", dpi=100)
